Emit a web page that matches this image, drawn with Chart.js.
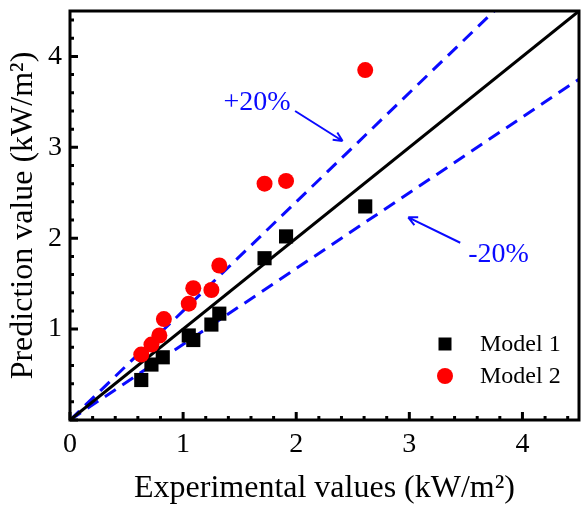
<!DOCTYPE html>
<html lang="en">
<head>
  <meta charset="UTF-8" />
  <title>Prediction vs Experimental</title>
  <script src="https://cdn.jsdelivr.net/npm/chart.js"></script>
  <style>
    html, body { margin: 0; padding: 0; background: #fff; }
    #wrap { width: 581px; height: 512px; }
  </style>
</head>
<body>
  <div id="wrap"><canvas id="c" width="581" height="512"></canvas></div>

  <script>
    // data (kW/m2)
    const model1X = [0.63, 0.72, 0.82, 1.05, 1.09, 1.25, 1.32, 1.72, 1.91, 2.61];
    const model1Y = [0.44, 0.61, 0.69, 0.93, 0.88, 1.05, 1.17, 1.78, 2.02, 2.35];
    const model2X = [0.63, 0.72, 0.79, 0.83, 1.05, 1.09, 1.25, 1.32, 1.72, 1.91, 2.61];
    const model2Y = [0.72, 0.83, 0.93, 1.11, 1.28, 1.45, 1.43, 1.70, 2.60, 2.63, 3.85];
    const lineX = [0, 4.5];
    const tickVals = [0, 1, 2, 3, 4];
    const minorStep = 0.2;
    const axisMax = 4.5;

    const serif = "'Liberation Serif', 'Times New Roman', serif";
    const blue = '#0a0aff';

    const pts = (xs, ys) => xs.map((x, i) => ({ x, y: ys[i] }));

    // frame, inside ticks, legend and the +-20% notes
    const decor = {
      id: 'decor',
      afterDatasetsDraw(chart) {
        const { ctx, chartArea: a, scales: { x, y } } = chart;
        ctx.save();
        ctx.strokeStyle = '#000';
        ctx.lineWidth = 3;
        for (let v = 0; v <= axisMax + 1e-6; v += minorStep) {
          const major = Math.abs(v - Math.round(v)) < 1e-6;
          const len = major ? 8 : 4;
          const px = x.getPixelForValue(v), py = y.getPixelForValue(v);
          ctx.beginPath();
          ctx.moveTo(px, a.bottom); ctx.lineTo(px, a.bottom - len);
          ctx.moveTo(a.left, py); ctx.lineTo(a.left + len, py);
          ctx.stroke();
        }
        ctx.strokeRect(a.left, a.top, a.right - a.left, a.bottom - a.top);

        // notes with arrows
        ctx.fillStyle = blue;
        ctx.strokeStyle = blue;
        ctx.lineWidth = 2;
        ctx.font = '28px ' + serif;
        ctx.textBaseline = 'middle';
        ctx.textAlign = 'right';
        ctx.fillText('+20%', x.getPixelForValue(1.95), y.getPixelForValue(3.49));
        ctx.textAlign = 'left';
        ctx.fillText('-20%', x.getPixelForValue(3.52), y.getPixelForValue(1.82));
        const arrow = (x0, y0, x1, y1) => {
          const p0 = [x.getPixelForValue(x0), y.getPixelForValue(y0)];
          const p1 = [x.getPixelForValue(x1), y.getPixelForValue(y1)];
          const ang = Math.atan2(p1[1] - p0[1], p1[0] - p0[0]);
          ctx.beginPath();
          ctx.moveTo(p0[0], p0[1]); ctx.lineTo(p1[0], p1[1]);
          for (const s of [-1, 1]) {
            ctx.moveTo(p1[0], p1[1]);
            ctx.lineTo(p1[0] - 10 * Math.cos(ang + s * 0.45), p1[1] - 10 * Math.sin(ang + s * 0.45));
          }
          ctx.stroke();
        };
        arrow(1.99, 3.40, 2.41, 3.07);
        arrow(3.45, 1.95, 2.99, 2.23);

        // legend
        ctx.font = '24px ' + serif;
        ctx.textAlign = 'left';
        const ds = chart.data.datasets;
        [0, 1].forEach((i, k) => {
          const cy = 344 + k * 32, cx = 445;
          ctx.fillStyle = ds[i].backgroundColor;
          ctx.beginPath();
          if (ds[i].pointStyle === 'rect') ctx.rect(cx - 6.5, cy - 6.5, 13, 13);
          else ctx.arc(cx, cy, 8, 0, Math.PI * 2);
          ctx.fill();
          ctx.fillStyle = '#000';
          ctx.fillText(ds[i].label, 480, cy + 1);
        });
        ctx.restore();
      }
    };

    new Chart(document.getElementById('c'), {
      type: 'scatter',
      data: {
        datasets: [
          { label: 'Model 1', data: pts(model1X, model1Y), pointStyle: 'rect', pointRadius: 10,
            backgroundColor: '#000', borderColor: '#000', borderWidth: 0, order: 1 },
          { label: 'Model 2', data: pts(model2X, model2Y), pointStyle: 'circle', pointRadius: 8,
            backgroundColor: '#ff0000', borderColor: '#ff0000', borderWidth: 0, order: 0 },
          { type: 'line', label: '1:1', data: pts(lineX, lineX), borderColor: '#000', borderWidth: 3,
            pointRadius: 0, order: 2 },
          { type: 'line', label: '+20%', data: pts(lineX, lineX.map(v => v * 1.2)), borderColor: blue,
            borderWidth: 3, borderDash: [13, 8], pointRadius: 0, order: 3 },
          { type: 'line', label: '-20%', data: pts(lineX, lineX.map(v => v / 1.2)), borderColor: blue,
            borderWidth: 3, borderDash: [13, 8], pointRadius: 0, order: 3 },
        ]
      },
      options: {
        responsive: false,
        animation: false,
        layout: { autoPadding: false, padding: { top: 11, right: 2, left: 0, bottom: 0 } },
        plugins: { legend: { display: false }, tooltip: { enabled: false } },
        scales: {
          x: {
            type: 'linear', min: 0, max: axisMax,
            afterBuildTicks: s => { s.ticks = tickVals.map(v => ({ value: v })); },
            afterFit: s => { s.height = 92; s.paddingLeft = 0; s.paddingRight = 0; },
            grid: { display: false, drawTicks: false },
            border: { display: false },
            ticks: { color: '#000', font: { family: serif, size: 28 }, padding: 8, maxRotation: 0 },
            title: { display: true, text: 'Experimental values (kW/m²)', color: '#000',
                     font: { family: serif, size: 32 }, padding: { top: 10 } }
          },
          y: {
            type: 'linear', min: 0, max: axisMax,
            afterBuildTicks: s => { s.ticks = tickVals.filter(v => v > 0).map(v => ({ value: v })); },
            afterFit: s => { s.width = 70; s.paddingTop = 0; s.paddingBottom = 0; },
            grid: { display: false, drawTicks: false },
            border: { display: false },
            ticks: { color: '#000', font: { family: serif, size: 28 }, padding: 8 },
            title: { display: true, text: 'Prediction value (kW/m²)', color: '#000',
                     font: { family: serif, size: 32 }, padding: { bottom: 2 } }
          }
        }
      },
      plugins: [decor]
    });
  </script>
</body>
</html>
